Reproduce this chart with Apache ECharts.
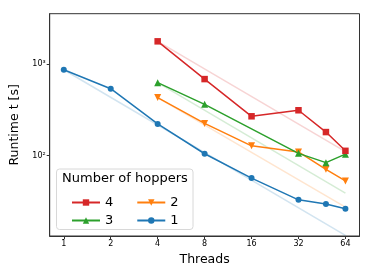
<!DOCTYPE html>
<html><head><meta charset="utf-8">
<script src="https://cdn.jsdelivr.net/npm/echarts@6/dist/echarts.min.js"></script>
<style>html,body{margin:0;padding:0;background:#fff}#c{width:374px;height:280px}</style>
</head><body><div id="c"></div>
<script>
// Data
var threads1 = [1, 2, 4, 8, 16, 32, 48, 64];
var runtime1 = [866, 538, 222, 105, 57, 33, 29.7, 26.4];
var threads2 = [4, 8, 16, 32, 48, 64];
var runtime2 = [430, 225, 128, 110, 71, 53];
var threads3 = [4, 8, 32, 48, 64];
var runtime3 = [626, 363, 106, 84, 104];
var threads4 = [4, 8, 16, 32, 48, 64];
var runtime4 = [1768, 685, 269, 313, 181, 113];
// faint ideal-scaling reference lines: [start thread, end thread], [start runtime, end runtime]
var idealThreads1 = [1, 64];  var idealRuntime1 = [866, 13.5];
var idealThreads2 = [4, 64];  var idealRuntime2 = [430, 27.5];
var idealThreads3 = [4, 64];  var idealRuntime3 = [626, 39];
var idealThreads4 = [4, 64];  var idealRuntime4 = [1768, 111];
var xTicks = [1, 2, 4, 8, 16, 32, 64];
var yTicks = [100, 1000];
var colors = {'4': '#d62728', '3': '#2ca02c', '2': '#ff7f0e', '1': '#1f77b4'};

function pairs(xs, ys) { return xs.map(function (x, i) { return [x, ys[i]]; }); }
var F = 'DejaVu Sans';
var chart = echarts.init(document.getElementById('c'), null, {renderer: 'canvas'});

function ideal(name, xs, ys) {
  return {type: 'line', name: 'ideal' + name, data: pairs(xs, ys), showSymbol: false, symbol: 'none',
    lineStyle: {color: colors[name], width: 1.5, opacity: 0.2}, silent: true, z: 1, animation: false};
}
function real(name, xs, ys, symbol, size, rot) {
  return {type: 'line', name: name, data: pairs(xs, ys), symbol: symbol, symbolSize: size, symbolRotate: rot || 0,
    itemStyle: {color: colors[name]}, lineStyle: {color: colors[name], width: 1.5}, z: 3, animation: false};
}
var sup = {'2': '²', '3': '³'};
chart.setOption({
  animation: false,
  grid: {left: 49.7, top: 13.7, right: 14.5, bottom: 44, show: true, borderColor: '#333', borderWidth: 1},
  xAxis: {type: 'log', logBase: 2, min: Math.pow(2, -0.3), max: Math.pow(2, 6.3),
    name: 'Threads', nameLocation: 'middle', nameGap: 17,
    nameTextStyle: {fontFamily: F, fontSize: 12.5, color: '#000'},
    axisLine: {show: true, lineStyle: {color: '#333'}},
    axisTick: {show: true, length: 3, inside: false, customValues: xTicks, lineStyle: {color: '#333'}},
    axisLabel: {customValues: xTicks, fontFamily: F, fontSize: 8, color: '#000', margin: 4,
      formatter: function (v) { return String(Math.round(v)); }},
    minorTick: {show: false}, splitLine: {show: false}},
  yAxis: {type: 'log', logBase: 10, min: 13.3, max: 3540,
    name: 'Runtime t [s]', nameLocation: 'middle', nameGap: 24,
    nameTextStyle: {fontFamily: F, fontSize: 12.5, color: '#000'},
    axisLine: {show: true, lineStyle: {color: '#333'}},
    axisTick: {show: true, length: 3, customValues: yTicks, lineStyle: {color: '#333'}},
    axisLabel: {customValues: yTicks, fontFamily: F, fontSize: 8, color: '#000', margin: 4,
      formatter: function (v) { var e = Math.round(Math.log10(v)); return '10' + sup[e]; }},
    minorTick: {show: false}, splitLine: {show: false}},
  legend: [
    {data: ['4', '2'], left: 66, top: 191, itemWidth: 28, itemHeight: 8, itemGap: 23, z: 20,
      textStyle: {fontFamily: F, fontSize: 13, color: '#000'}, selectedMode: false},
    {data: ['3', '1'], left: 66, top: 209, itemWidth: 28, itemHeight: 8, itemGap: 23, z: 20,
      textStyle: {fontFamily: F, fontSize: 13, color: '#000'}, selectedMode: false}
  ],
  graphic: [
    {type: 'rect', left: 56, top: 168.5, shape: {width: 136.5, height: 60.5, r: 3},
      style: {fill: 'rgba(255,255,255,0.8)', stroke: '#d8d8d8', lineWidth: 1}, z: 10},
    {type: 'text', left: 62, top: 172, style: {text: 'Number of hoppers', font: '13px "DejaVu Sans"', fill: '#000'}, z: 11}
  ],
  series: [
    ideal('1', idealThreads1, idealRuntime1),
    ideal('2', idealThreads2, idealRuntime2),
    ideal('3', idealThreads3, idealRuntime3),
    ideal('4', idealThreads4, idealRuntime4),
    real('1', threads1, runtime1, 'circle', 6),
    real('2', threads2, runtime2, 'triangle', 7, 180),
    real('3', threads3, runtime3, 'triangle', 7),
    real('4', threads4, runtime4, 'rect', 6.5)
  ]
});
</script></body></html>
